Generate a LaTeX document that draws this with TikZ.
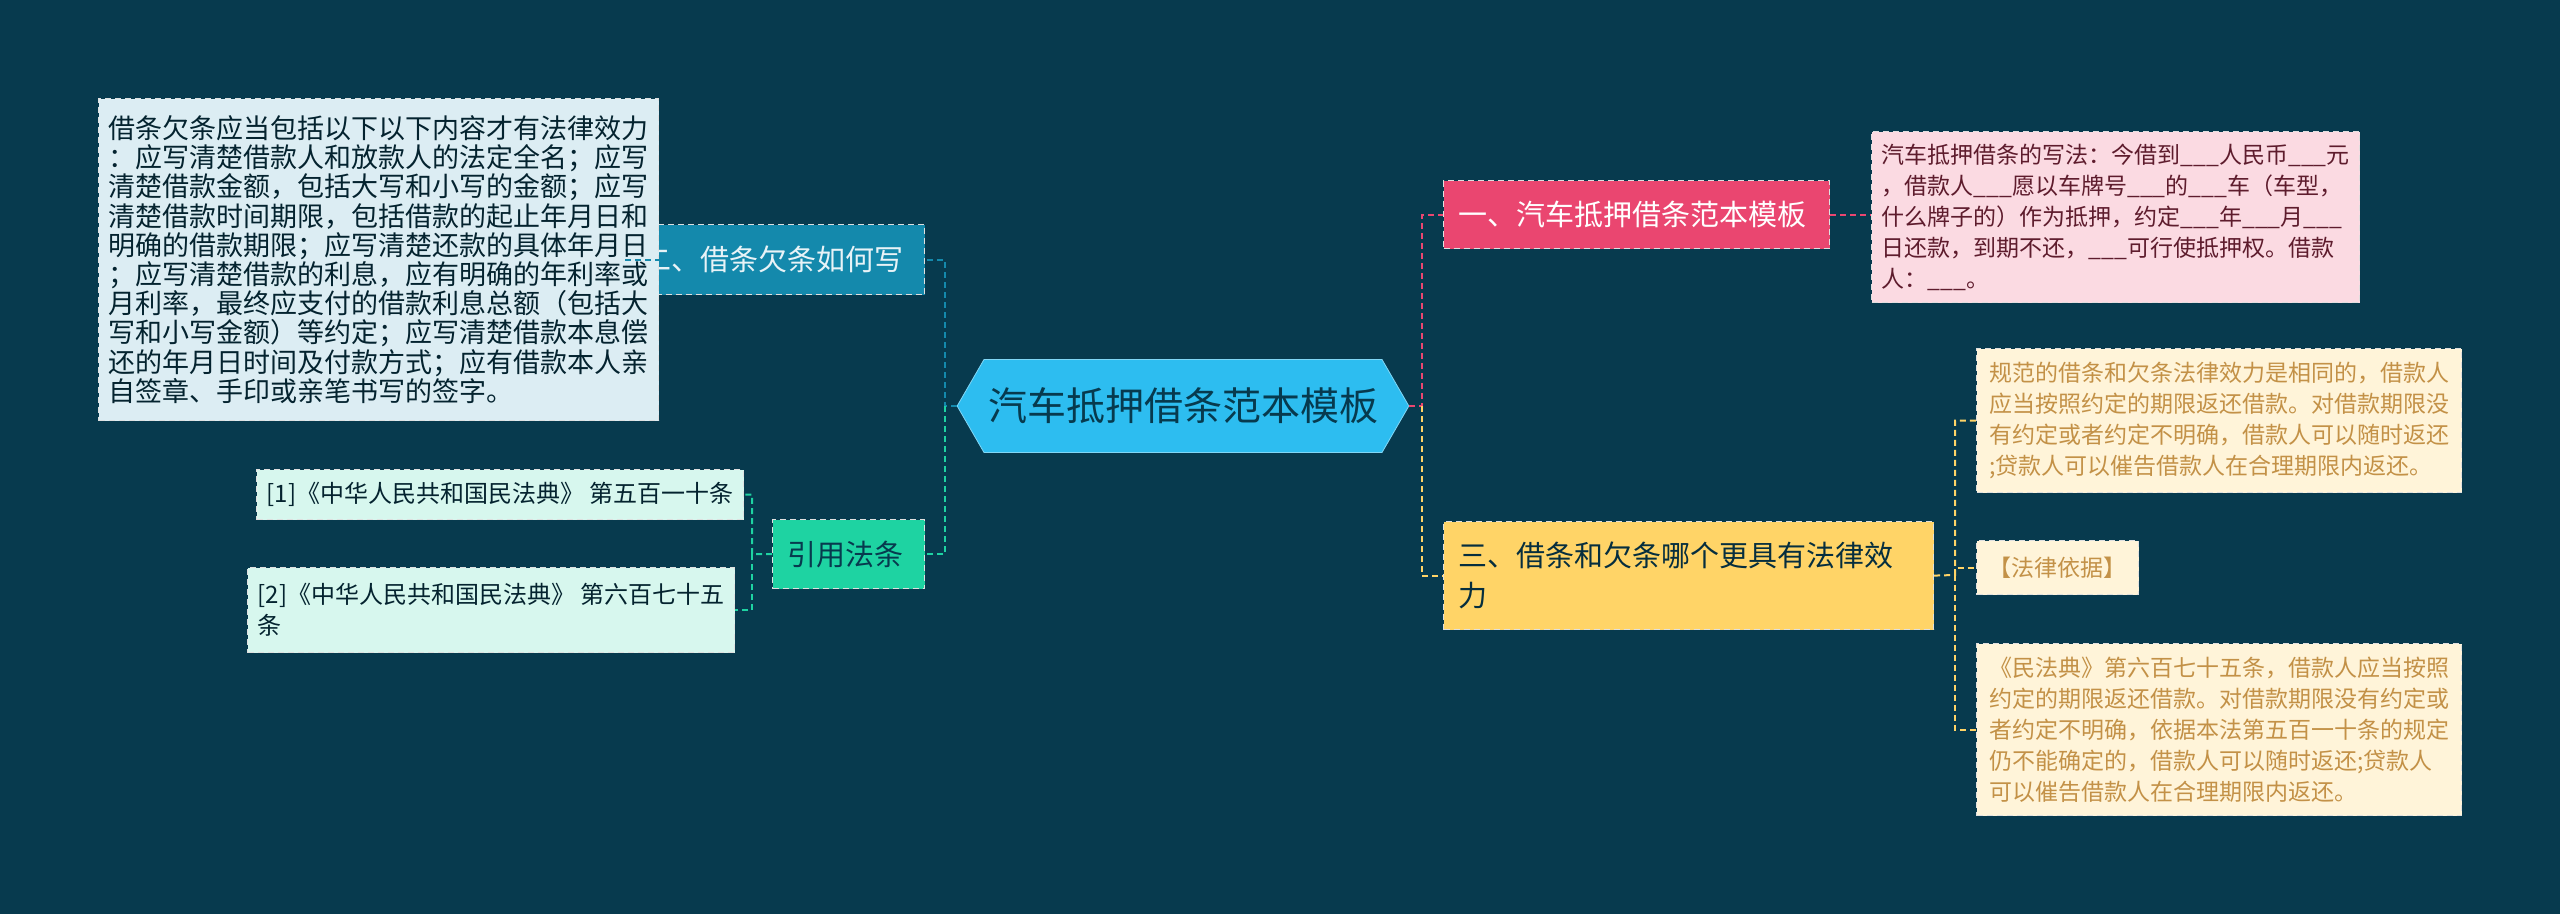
\documentclass[tikz,border=0pt]{standalone}
\usepackage{fontspec}
\setmainfont{Noto Sans CJK SC}
\usetikzlibrary{positioning, shapes.symbols}
\definecolor{bgblue}{HTML}{073A4E}
\definecolor{xcyan}{HTML}{2DBDF0}
\definecolor{xpink}{HTML}{EA4670}
\definecolor{xyellow}{HTML}{FFD467}
\definecolor{xblue}{HTML}{1489AC}
\definecolor{xgreen}{HTML}{1ED3A2}
\tikzset{
	box/.style={draw=white!75!gray, densely dashed, line width=0.6pt, inner sep=0pt, anchor=north west},
	leaf/.style={box, align=left, font=\fontsize{11.5}{15.5}\selectfont, inner xsep=5pt, inner ysep=5pt},
	link/.style={densely dashed, line width=1pt},
}
\begin{document}
\begin{tikzpicture}[x=0.5pt, y=-0.5pt, every node/.style={font=\small}]
		\fill[bgblue] (0,0) rectangle (2560,914);
		\useasboundingbox (0,0) rectangle (2560,914);
		% centre
		\node[shape=signal, signal to=west and east, signal pointer angle=120, fill=xcyan, draw=xcyan!60!white, minimum width=436*0.5pt, minimum height=93*0.5pt, inner xsep=2pt, font=\fontsize{19.5}{22}\selectfont, text=bgblue] (root) at (1183,406) {汽车抵押借条范本模板};
		% main branches
		\node[box, fill=xpink, text=white, minimum width=386*0.5pt, minimum height=68*0.5pt, font=\fontsize{14.5}{17}\selectfont] (b1) at (1443,180) {};
		\node[right=4pt of b1.west, text=white, font=\fontsize{14.5}{17}\selectfont] (b1t) {一、汽车抵押借条范本模板};
		\node[box, fill=xyellow, minimum width=490*0.5pt, minimum height=108*0.5pt, align=left, font=\fontsize{14.5}{20}\selectfont, text=bgblue!80!black] (b3) at (1443,521) {};
		\node[right=4pt of b3.west, align=left, text=bgblue!80!black, font=\fontsize{14.5}{20}\selectfont] (b3t) {三、借条和欠条哪个更具有法律效\\力};
		\node[box, fill=xblue, minimum width=299*0.5pt, minimum height=70*0.5pt] (b2) at (625,224) {};
		\node[right=5pt of b2.west, text=white!90!xblue, font=\fontsize{14.5}{17}\selectfont] (b2t) {二、借条欠条如何写};
		\node[box, fill=xgreen, minimum width=152*0.5pt, minimum height=69*0.5pt] (b4) at (772,519) {};
		\node[right=4pt of b4.west, text=bgblue, font=\fontsize{14.5}{17}\selectfont] (b4t) {引用法条};
		% leaves
		\node[leaf, fill=xpink!20!white, text=xpink!40!black, minimum width=485*0.5pt, minimum height=171*0.5pt] (p1) at (1871,131) {汽车抵押借条的写法：今借到\_\_\_人民币\_\_\_元\\，借款人\_\_\_愿以车牌号\_\_\_的\_\_\_车（车型，\\什么牌子的）作为抵押，约定\_\_\_年\_\_\_月\_\_\_\\日还款，到期不还，\_\_\_可行使抵押权。借款\\人：\_\_\_。};
		\node[leaf, fill=xyellow!25!white, text=xyellow!40!brown!90!black, minimum width=485*0.5pt, minimum height=144*0.5pt] (y1) at (1976,348) {规范的借条和欠条法律效力是相同的，借款人\\应当按照约定的期限返还借款。对借款期限没\\有约定或者约定不明确，借款人可以随时返还\\;贷款人可以催告借款人在合理期限内返还。};
		\node[leaf, fill=xyellow!25!white, text=xyellow!40!brown!90!black, minimum width=162*0.5pt, minimum height=54*0.5pt] (y2) at (1976,540) {【法律依据】};
		\node[leaf, fill=xyellow!25!white, text=xyellow!40!brown!90!black, minimum width=485*0.5pt, minimum height=172*0.5pt] (y3) at (1976,643) {《民法典》第六百七十五条，借款人应当按照\\约定的期限返还借款。对借款期限没有约定或\\者约定不明确，依据本法第五百一十条的规定\\仍不能确定的，借款人可以随时返还;贷款人\\可以催告借款人在合理期限内返还。};
		\node[leaf, fill=xblue!15!white, text=bgblue!60!black, minimum width=485*0.5pt, minimum height=322*0.5pt, font=\fontsize{13.5}{14.6}\selectfont] (l1) at (98,98) {借条欠条应当包括以下以下内容才有法律效力\\：应写清楚借款人和放款人的法定全名；应写\\清楚借款金额，包括大写和小写的金额；应写\\清楚借款时间期限，包括借款的起止年月日和\\明确的借款期限；应写清楚还款的具体年月日\\；应写清楚借款的利息，应有明确的年利率或\\月利率，最终应支付的借款利息总额（包括大\\写和小写金额）等约定；应写清楚借款本息偿\\还的年月日时间及付款方式；应有借款本人亲\\自签章、手印或亲笔书写的签字。};
		\node[leaf, fill=xgreen!18!white, text=bgblue!60!black, minimum width=474*0.5pt, minimum height=50*0.5pt, font=\fontsize{12}{15}\selectfont] (g1) at (256,469) {[1]《中华人民共和国民法典》 第五百一十条};
		\node[leaf, fill=xgreen!18!white, text=bgblue!60!black, minimum width=483*0.5pt, minimum height=85*0.5pt, font=\fontsize{12}{15.5}\selectfont] (g2) at (247,567) {[2]《中华人民共和国民法典》 第六百七十五\\条};
		% connectors
		\coordinate (jr) at (1422,406);
		\coordinate (jl) at (945,406);
		\draw[link, xpink] (root.east) -- (jr) |- (b1.west);
		\draw[link, xyellow] (jr) |- (b3.west);
		\draw[link, xblue] (root.west) -- (jl) |- (b2.east);
		\draw[link, xgreen] (jl) |- (b4.east);
		\draw[link, xpink] (b1.east) -- (b1.east -| p1.west);
		\draw[link, xblue] (b2.west) -- (b2.west -| l1.east);
		\coordinate (jy) at (1955,575);
		\draw[link, xyellow] (b3.east) -- (jy) |- (y1.west);
		\draw[link, xyellow] (jy) |- (y2.west);
		\draw[link, xyellow] (jy) |- (y3.west);
		\coordinate (jg) at (752,554);
		\draw[link, xgreen] (b4.west) -- (jg) |- (g1.east);
		\draw[link, xgreen] (jg) |- (g2.east);
	\end{tikzpicture}
\end{document}
